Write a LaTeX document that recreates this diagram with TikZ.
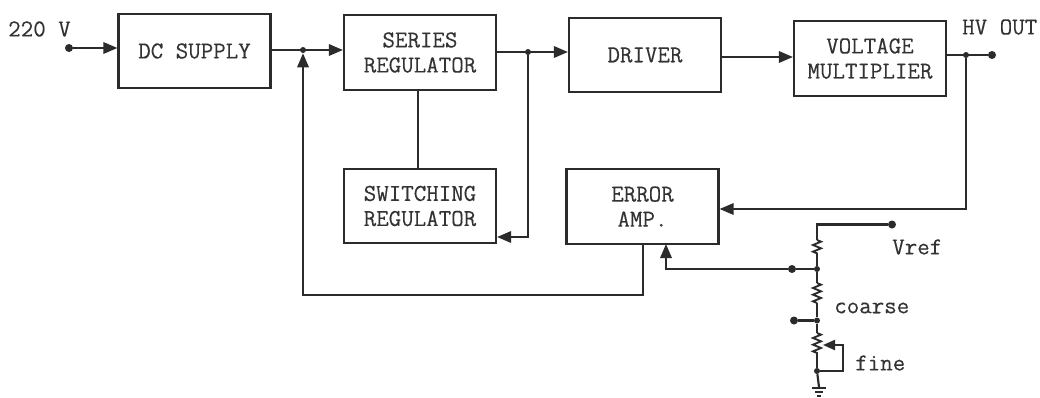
\documentclass[tikz,border=0pt]{standalone}
\usepackage{fontspec}
\setmainfont[FakeBold=0.25]{Latin Modern Mono}
\usetikzlibrary{arrows.meta,decorations.pathmorphing,calc}
\definecolor{ink}{HTML}{2B2B2B}
\definecolor{txt}{HTML}{333333}
\tikzset{
  blk/.style={draw=ink,line width=1.6pt,minimum width=114pt,minimum height=56pt,inner sep=0pt,align=center,text=txt,font=\fontsize{18.2}{18.8}\selectfont},
  lbl/.style={text=txt,inner sep=0pt,font=\fontsize{18.2}{19}\selectfont},
  wire/.style={draw=ink,line width=1.6pt},
  arr/.style={wire,-{Triangle[length=10.5pt,width=8.5pt]}},
  dot/.style={circle,fill=ink,draw=none,minimum size=6pt,inner sep=0pt},
  jct/.style={circle,fill=ink,draw=none,minimum size=4.5pt,inner sep=0pt},
  res/.style={wire,line width=1.4pt,decorate,decoration={zigzag,segment length=5pt,amplitude=3pt}},
}
\begin{document}
\begin{tikzpicture}[x=0.75pt,y=-0.75pt]
\useasboundingbox[fill=white] (0,0) rectangle (1040,397);
% blocks
\node[blk] (dc)  at (194.5,51) {DC SUPPLY};
\node[blk] (ser) at (420,52.5) {\raisebox{-1.5pt}{SERIES}\\\raisebox{-1.5pt}{REGULATOR}};
\node[blk] (drv) at (645,55) {DRIVER};
\node[blk] (vm)  at (870,58.5) {VOLTAGE\\MULTIPLIER};
\node[blk] (sw)  at (420,206) {SWITCHING\\REGULATOR};
\node[blk] (err) at (642.5,206.5) {ERROR\\AMP.};
% labels
\node[lbl,anchor=west] (l220) at (8,29) {220 V};
\node[lbl,anchor=west] (lhv) at (962,27) {HV OUT};
\node[lbl,anchor=west] (lvref) at (892,247) {Vref};
\node[lbl,anchor=west] (lco) at (834,308) {coarse};
\node[lbl,anchor=west] (lfi) at (855,363) {fine};
% terminals and junctions
\node[dot] (in) at (69,48) {};
\node[dot] (hv) at (992,55) {};
\node[jct] (j1) at (303,50) {};
\node[jct] (j2) at (528,52) {};
\node[jct] (j3) at (966,55) {};
\node[dot] (vr) at (892,224.5) {};
\node[jct] (j4) at (817,269) {};
\node[dot] (t1) at (792,269) {};
\node[jct] (j5) at (817,320.5) {};
\node[dot] (t2) at (794,320.5) {};
\node[jct] (j6) at (817,371) {};
% coordinates
\coordinate (corner) at (817,224.5);
\coordinate (r1a) at (817,240); \coordinate (r1b) at (817,256);
\coordinate (r2a) at (817,283); \coordinate (r2b) at (817,303);
\coordinate (r3a) at (817,333); \coordinate (r3b) at (817,355);
\coordinate (wip) at (823,345);
\coordinate (g0) at (819,387);
% signal path
\draw[arr] (in) -- (in -| dc.west);
\draw[arr] (dc.east |- j1) -- (j1 -| ser.west);
\draw[arr] (ser.east |- j2) -- (j2 -| drv.west);
\draw[arr] (drv.east |- 0,57) -- (vm.west |- 0,57);
\draw[wire] (vm.east |- j3) -- (hv);
\draw[wire] (ser.south -| 418,0) -- (sw.north -| 418,0);
\draw[arr] (j2) -- (j2 |- 0,237) -- (sw.east |- 0,237);
\draw[arr] (j3) -- (j3 |- 0,209) -- (err.east |- 0,209);
% feedback
\draw[arr] (643,244) -- (643,295) -- (303,295) -- (j1);
% divider
\draw[wire] (vr) -- (corner) -- (r1a);
\draw[res] (r1a) -- (r1b);
\draw[wire] (r1b) -- (j4) -- (r2a);
\draw[res] (r2a) -- (r2b);
\draw[wire] (r2b) -- (j5) -- (r3a);
\draw[res] (r3a) -- (r3b);
\draw[wire] (r3b) -- (j6);
\draw[wire] (j6) -- (g0);
\draw[arr] (j4) -- (t1) -- (666,269) -- (666,244);
\draw[wire] (j5) -- (t2);
\draw[wire,-{Triangle[length=9pt,width=7.5pt]}] (j6) -- (843,371) -- (843,345) -- (wip);
% ground
\draw[wire,line width=1.3pt] ($(g0)+(-7,1)$) -- ($(g0)+(7,1)$);
\draw[wire,line width=1.2pt] ($(g0)+(-4,5)$) -- ($(g0)+(4,5)$);
\draw[wire,line width=1.2pt] ($(g0)+(-2,9)$) -- ($(g0)+(2,9)$);
\end{tikzpicture}
\end{document}
